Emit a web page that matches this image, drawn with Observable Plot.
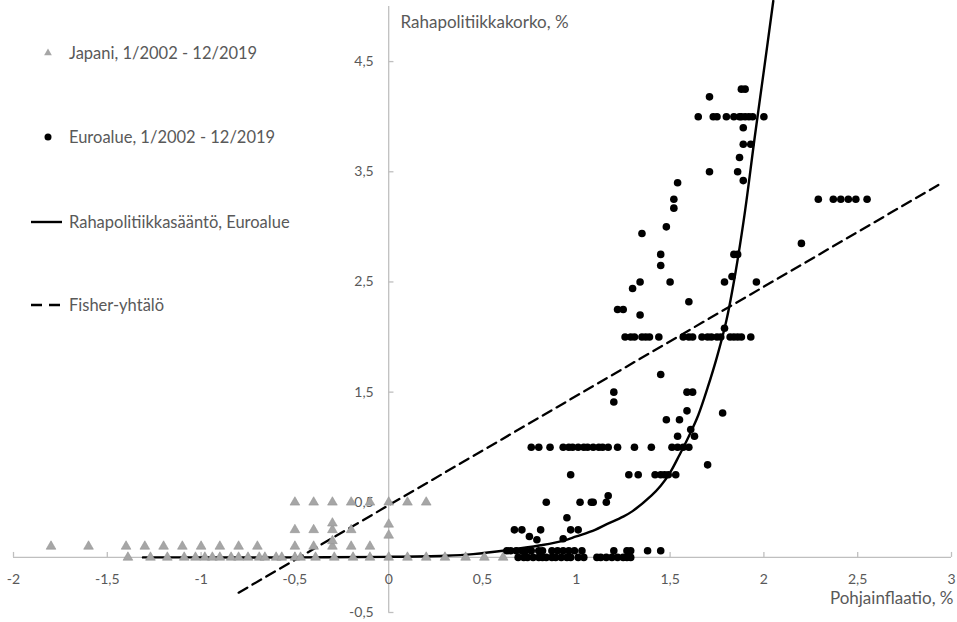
<!DOCTYPE html>
<html>
<head>
<meta charset="utf-8">
<script src="https://cdn.jsdelivr.net/npm/d3@7"></script>
<script src="https://cdn.jsdelivr.net/npm/@observablehq/plot@0.6"></script>
<style>
  html, body { margin: 0; padding: 0; background: #fff; }
  #chart { width: 957px; height: 622px; }
</style>
</head>
<body>
<div id="chart"></div>
<script>
// ---------- Data ----------
const xTicks = [-2, -1.5, -1, -0.5, 0, 0.5, 1, 1.5, 2, 2.5, 3];
const yTicks = [-0.5, 0.5, 1.5, 2.5, 3.5, 4.5];

const legendLabels = [
  "Japani, 1/2002 - 12/2019",
  "Euroalue, 1/2002 - 12/2019",
  "Rahapolitiikkasääntö, Euroalue",
  "Fisher-yhtälö"
];
const yTitle = "Rahapolitiikkakorko, %";
const xTitle = "Pohjainflaatio, %";

// Japan: core inflation (x) vs policy rate (y)
const japanX = [
  -1.8, -1.6, -1.4, -1.3, -1.2, -1.1, -1.0, -0.9, -0.8, -0.7, -0.5, -0.4, -0.3, -0.2, -0.1,
  -0.5, -0.4, -0.3, -0.2, -0.1, 0.0, 0.1, 0.2,
  -0.5, -0.4, -0.3, -0.2, -0.3, -0.3, 0.0, 0.0,
  -1.39, -1.27, -1.18, -1.09, -1.03, -0.98, -0.94, -0.9, -0.84, -0.8, -0.75, -0.69, -0.66, -0.6,
  -0.57, -0.5, -0.47, -0.39, -0.29, -0.19, -0.1, 0.0, 0.1, 0.2, 0.3, 0.41, 0.51, 0.61
];
const japanY = [
  0.1, 0.1, 0.1, 0.1, 0.1, 0.1, 0.1, 0.1, 0.1, 0.1, 0.1, 0.1, 0.1, 0.1, 0.1,
  0.5, 0.5, 0.5, 0.5, 0.5, 0.5, 0.5, 0.5,
  0.25, 0.25, 0.25, 0.25, 0.31, 0.15, 0.3, 0.2,
  0, 0, 0, 0, 0, 0, 0, 0, 0, 0, 0, 0, 0, 0,
  0, 0, 0, 0, 0, 0, 0, 0, 0, 0, 0, 0, 0, 0
];

// Euro area: core inflation (x) vs policy rate (y)
const euroX = [
  1.88, 1.90, 1.71,
  1.65, 1.73, 1.75, 1.80, 1.84, 1.87, 1.88, 1.90, 1.92, 1.94, 2.00,
  1.89, 1.89, 1.93, 1.87, 1.71, 1.86, 1.89, 1.54, 1.52, 1.52, 1.48, 1.35, 1.45, 1.45, 1.50, 1.34, 1.30, 1.60, 1.22, 1.25, 1.34,
  1.26, 1.29, 1.31, 1.35, 1.37, 1.39, 1.44, 1.57, 1.60, 1.62, 1.67, 1.70, 1.72, 1.75, 1.77, 1.82, 1.84, 1.86, 1.88, 1.93,
  2.29, 2.37, 2.41, 2.45, 2.49, 2.55,
  2.20, 1.84, 1.86, 1.83, 1.79, 1.96, 1.79,
  1.45, 1.20, 1.20, 1.59, 1.62, 1.59, 1.78, 1.48, 1.55, 1.61, 1.54, 1.63,
  0.76, 0.80, 0.86, 0.93, 0.96, 0.98, 1.01, 1.04, 1.06, 1.09, 1.12, 1.14, 1.17, 1.22, 1.31, 1.40, 1.51, 1.54, 1.57, 1.60,
  1.70,
  0.97, 1.28, 1.33, 1.42, 1.45, 1.47, 1.49, 1.53,
  0.84, 1.02, 1.08, 1.09, 1.16, 1.17,
  0.95,
  0.67, 0.71, 0.81, 0.97, 1.01,
  0.75, 0.79, 0.93,
  0.63, 0.65, 0.68, 0.71, 0.73, 0.76, 0.80, 0.82, 0.87, 0.90, 0.93, 0.96, 0.99, 1.03, 1.20, 1.27, 1.29, 1.38, 1.45,
  0.69, 0.72, 0.74, 0.77, 0.80, 0.82, 0.84, 0.87, 0.89, 0.92, 0.95, 0.97, 1.01, 1.04, 1.11, 1.13, 1.16, 1.19, 1.22, 1.25, 1.27, 1.29
];
const euroY = [
  4.25, 4.25, 4.18,
  4.0, 4.0, 4.0, 4.0, 4.0, 4.0, 4.0, 4.0, 4.0, 4.0, 4.0,
  3.9, 3.75, 3.75, 3.63, 3.5, 3.5, 3.42, 3.4, 3.25, 3.17, 3.0, 2.94, 2.75, 2.65, 2.5, 2.5, 2.44, 2.32, 2.25, 2.25, 2.2,
  2.0, 2.0, 2.0, 2.0, 2.0, 2.0, 2.0, 2.0, 2.0, 2.0, 2.0, 2.0, 2.0, 2.0, 2.0, 2.0, 2.0, 2.0, 2.0, 2.0,
  3.25, 3.25, 3.25, 3.25, 3.25, 3.25,
  2.85, 2.75, 2.75, 2.55, 2.5, 2.5, 2.08,
  1.66, 1.5, 1.41, 1.5, 1.5, 1.33, 1.31, 1.25, 1.25, 1.16, 1.1, 1.1,
  1.0, 1.0, 1.0, 1.0, 1.0, 1.0, 1.0, 1.0, 1.0, 1.0, 1.0, 1.0, 1.0, 1.0, 1.0, 1.0, 1.0, 1.0, 1.0, 1.0,
  0.84,
  0.75, 0.75, 0.75, 0.75, 0.75, 0.75, 0.75, 0.75,
  0.5, 0.5, 0.5, 0.5, 0.5, 0.56,
  0.36,
  0.25, 0.25, 0.25, 0.25, 0.25,
  0.19, 0.16, 0.17,
  0.06, 0.06, 0.06, 0.06, 0.06, 0.06, 0.06, 0.06, 0.06, 0.06, 0.06, 0.06, 0.06, 0.06, 0.06, 0.06, 0.06, 0.06, 0.06,
  0, 0, 0, 0, 0, 0, 0, 0, 0, 0, 0, 0, 0, 0, 0, 0, 0, 0, 0, 0, 0, 0
];

// Monetary policy rule, euro area
const ruleX = [-1.31, -1.0, -0.5, 0.0, 0.3, 0.45, 0.63, 0.81, 0.93, 1.0, 1.1, 1.16, 1.25, 1.3, 1.4, 1.45, 1.5, 1.55, 1.6, 1.65, 1.7, 1.75, 1.8, 1.85, 1.9, 1.95, 2.0, 2.05];
const ruleY = [0, 0, 0, 0.005, 0.015, 0.03, 0.065, 0.11, 0.15, 0.19, 0.25, 0.3, 0.37, 0.42, 0.56, 0.65, 0.77, 0.93, 1.1, 1.29, 1.54, 1.82, 2.15, 2.6, 3.15, 3.8, 4.42, 5.05];

// Fisher equation (dashed)
const fisherX = [-0.8, 2.93];
const fisherY = [-0.32, 3.38];

// ---------- Build ----------
const japan = japanX.map((x, i) => ({x, y: japanY[i]}));
const euro = euroX.map((x, i) => ({x, y: euroY[i]}));
const rule = ruleX.map((x, i) => ({x, y: ruleY[i]}));
const fisher = fisherX.map((x, i) => ({x, y: fisherY[i]}));
const fmt = d => String(d).replace(".", ",");

const axisColor = "#bfbfbf";
const textColor = "#595959";
const fontStack = "Lato, 'Open Sans', sans-serif";

const plot = Plot.plot({
  width: 957,
  height: 622,
  marginLeft: 13,
  marginRight: 6,
  marginTop: 6,
  marginBottom: 10,
  x: {domain: [-2, 3], axis: null},
  y: {domain: [-0.5, 5], axis: null},
  style: {fontFamily: fontStack, fontSize: "14px", color: textColor, background: "white", overflow: "visible"},
  marks: [
    // axes lines
    Plot.ruleY([0], {stroke: axisColor, strokeWidth: 1.3}),
    Plot.ruleX([0], {y1: -0.5, y2: 5, stroke: axisColor, strokeWidth: 1.3}),
    // tick marks
    Plot.ruleX(xTicks, {x: d => d, y1: 0, y2: 0.045, stroke: axisColor, strokeWidth: 1.3}),
    Plot.ruleY(yTicks, {y: d => d, x1: 0, x2: 0.028, stroke: axisColor, strokeWidth: 1.3}),
    // tick labels
    Plot.text(xTicks, {x: d => d, y: 0, dy: 22, text: fmt, fill: textColor, fontSize: 14}),
    Plot.text(yTicks, {x: 0, y: d => d, dx: -15, textAnchor: "end", text: fmt, fill: textColor, fontSize: 14}),
    // axis titles
    Plot.text([yTitle], {frameAnchor: "top-left", dx: 400 - 13, dy: 9, textAnchor: "start", text: d => d, fill: textColor, fontSize: 17}),
    Plot.text([xTitle], {frameAnchor: "bottom-right", dx: 2, dy: -9, textAnchor: "end", text: d => d, fill: textColor, fontSize: 17}),
    // lines
    Plot.line(fisher, {x: "x", y: "y", stroke: "black", strokeWidth: 2.3, strokeDasharray: "10,6"}),
    Plot.line(rule, {x: "x", y: "y", stroke: "black", strokeWidth: 2.4, curve: "catmull-rom"}),
    // points
    Plot.dot(japan, {x: "x", y: "y", symbol: "triangle", r: 3.6, fill: "#a6a6a6", stroke: "#969696", strokeWidth: 0.6}),
    Plot.dot(euro, {x: "x", y: "y", r: 3.8, fill: "black", stroke: "none"})
  ]
});

document.getElementById("chart").appendChild(plot);

// ---------- Legend (inside plot area, top-left) ----------
const svg = d3.select(plot);
const lg = svg.append("g")
  .attr("font-family", fontStack)
  .attr("font-size", 16.5)
  .attr("fill", textColor)
  .attr("text-anchor", "start");
const rowsY = [53, 137, 222, 305];
const sym = d3.symbol().type(d3.symbolTriangle).size(26);
lg.append("path").attr("d", sym()).attr("transform", `translate(48,${rowsY[0]})`).attr("fill", "#a6a6a6");
lg.append("circle").attr("cx", 48).attr("cy", rowsY[1]).attr("r", 3.5).attr("fill", "black");
lg.append("line").attr("x1", 31).attr("x2", 62).attr("y1", rowsY[2]).attr("y2", rowsY[2]).attr("stroke", "black").attr("stroke-width", 2.4);
lg.append("line").attr("x1", 31).attr("x2", 60).attr("y1", rowsY[3]).attr("y2", rowsY[3]).attr("stroke", "black").attr("stroke-width", 2.4).attr("stroke-dasharray", "11,7");
legendLabels.forEach((t, i) => {
  lg.append("text").attr("x", 69).attr("y", rowsY[i]).attr("dy", "0.35em").attr("text-anchor", "start").text(t);
});
</script>
</body>
</html>
